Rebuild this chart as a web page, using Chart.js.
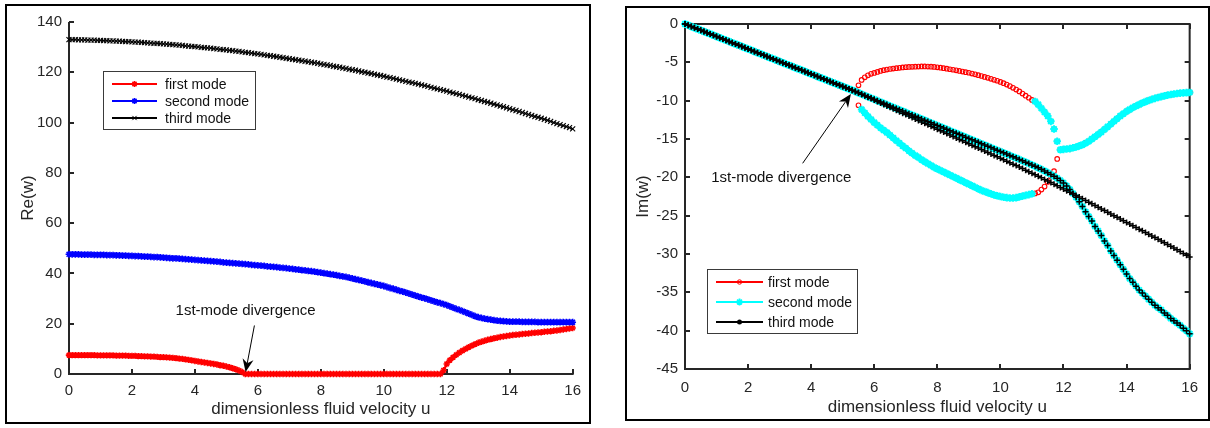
<!DOCTYPE html>
<html>
<head>
<meta charset="utf-8">
<script src="https://cdn.jsdelivr.net/npm/chart.js@4/dist/chart.umd.min.js"></script>
<style>
  html, body { margin:0; padding:0; background:#fff; width:1210px; height:428px; overflow:hidden; }
  .frame { position:absolute; box-sizing:border-box; border:2px solid #000; background:#fff; }
  #f1 { left:5px; top:4px; width:586px; height:420px; }
  #f2 { left:625px; top:6px; width:585px; height:415px; }
  canvas { display:block; }
</style>
</head>
<body>
<div class="frame" id="f1"><canvas id="c1" width="582" height="416"></canvas></div>
<div class="frame" id="f2"><canvas id="c2" width="581" height="411"></canvas></div>
<script>
// ---------------- DATA ----------------
// dimensionless fluid velocity grid
const u = [
0,0.1,0.2,0.3,0.4,0.5,0.6,0.7,0.8,0.9,
1,1.1,1.2,1.3,1.4,1.5,1.6,1.7,1.8,1.9,
2,2.1,2.2,2.3,2.4,2.5,2.6,2.7,2.8,2.9,
3,3.1,3.2,3.3,3.4,3.5,3.6,3.7,3.8,3.9,
4,4.1,4.2,4.3,4.4,4.5,4.6,4.7,4.8,4.9,
5,5.1,5.2,5.3,5.4,5.5,5.6,5.7,5.8,5.9,
6,6.1,6.2,6.3,6.4,6.5,6.6,6.7,6.8,6.9,
7,7.1,7.2,7.3,7.4,7.5,7.6,7.7,7.8,7.9,
8,8.1,8.2,8.3,8.4,8.5,8.6,8.7,8.8,8.9,
9,9.1,9.2,9.3,9.4,9.5,9.6,9.7,9.8,9.9,
10,10.1,10.2,10.3,10.4,10.5,10.6,10.7,10.8,10.9,
11,11.1,11.2,11.3,11.4,11.5,11.6,11.7,11.8,11.9,
12,12.1,12.2,12.3,12.4,12.5,12.6,12.7,12.8,12.9,
13,13.1,13.2,13.3,13.4,13.5,13.6,13.7,13.8,13.9,
14,14.1,14.2,14.3,14.4,14.5,14.6,14.7,14.8,14.9,
15,15.1,15.2,15.3,15.4,15.5,15.6,15.7,15.8,15.9,
16];

const xTicks = [0,2,4,6,8,10,12,14,16];
const reTicks = [0,20,40,60,80,100,120,140];
const imTicks = [0,-5,-10,-15,-20,-25,-30,-35,-40,-45];
const modeNames = ['first mode','second mode','third mode'];

// Re(w), left chart
const reFirst = [
7.5,7.5,7.5,7.5,7.5,7.5,7.5,7.5,7.5,7.4,7.4,
7.4,7.4,7.4,7.4,7.3,7.3,7.3,7.3,7.2,7.2,
7.2,7.1,7.1,7.0,7.0,6.9,6.9,6.8,6.7,6.7,
6.6,6.5,6.4,6.3,6.1,6.0,5.8,5.6,5.4,5.2,
5.0,4.8,4.6,4.4,4.2,4.0,3.8,3.5,3.3,3.0,
2.7,2.3,1.9,1.4,0.8,
0,0,0,0,0,0,0,0,0,0,
0,0,0,0,0,0,0,0,0,0,
0,0,0,0,0,0,0,0,0,0,
0,0,0,0,0,0,0,0,0,0,
0,0,0,0,0,0,0,0,0,0,
0,0,0,0,0,0,0,0,0,0,
0,0,0,
1.5,4.0,
5.5,6.6,7.6,8.5,9.3,10.0,10.7,11.3,11.9,12.4,
12.8,13.2,13.6,13.9,14.2,14.4,14.7,14.9,15.1,15.3,
15.5,15.6,15.7,15.9,16.0,16.1,16.3,16.4,16.5,16.6,
16.8,16.9,17.0,17.2,17.3,17.5,17.7,17.9,18.1,18.3];

const reSecond = [
47.6,47.6,47.6,47.6,47.5,47.5,47.5,47.5,47.4,47.4,47.4,
47.4,47.3,47.3,47.3,47.2,47.2,47.1,47.1,47.0,47.0,
46.9,46.9,46.8,46.7,46.7,46.6,46.5,46.5,46.4,46.3,
46.2,46.1,46.0,46.0,45.9,45.8,45.7,45.6,45.5,45.4,
45.3,45.2,45.1,45.0,44.9,44.8,44.7,44.6,44.4,44.3,
44.2,44.1,44.0,43.9,43.8,43.7,43.6,43.4,43.3,43.2,
43.1,43.0,42.8,42.7,42.6,42.5,42.3,42.2,42.1,41.9,
41.8,41.6,41.5,41.3,41.2,41.0,40.9,40.7,40.5,40.3,
40.1,39.9,39.7,39.5,39.3,39.0,38.8,38.6,38.3,38.0,
37.7,37.4,37.1,36.8,36.5,36.2,35.9,35.6,35.3,35.0,
34.6,34.2,33.9,33.5,33.1,32.8,32.4,32.0,31.6,31.2,
30.8,30.4,30.1,29.7,29.3,28.9,28.5,28.2,27.8,27.4,
26.9,26.4,25.9,25.5,25.0,24.5,24.0,23.5,23.0,22.6,
22.3,22.0,21.8,21.6,21.4,21.2,21.1,21.0,20.9,20.8,
20.8,20.8,20.8,20.7,20.7,20.7,20.7,20.7,20.6,20.6,
20.6,20.6,20.6,20.6,20.6,20.6,20.6,20.6,20.6,20.6];

const reThird = [
133.0,133.0,133.0,132.9,132.9,132.9,132.8,132.8,132.8,132.7,132.7,
132.6,132.6,132.5,132.5,132.4,132.4,132.3,132.2,132.2,132.1,
132.0,132.0,131.9,131.8,131.7,131.6,131.5,131.5,131.4,131.3,
131.2,131.1,131.0,130.9,130.8,130.7,130.5,130.4,130.3,130.2,
130.1,129.9,129.8,129.7,129.6,129.4,129.3,129.1,129.0,128.9,
128.7,128.6,128.4,128.3,128.1,127.9,127.8,127.6,127.4,127.3,
127.1,126.9,126.7,126.6,126.4,126.2,126.0,125.8,125.6,125.4,
125.2,125.0,124.8,124.6,124.4,124.2,124.0,123.8,123.6,123.3,
123.1,122.9,122.7,122.4,122.2,122.0,121.7,121.5,121.2,121.0,
120.8,120.5,120.2,120.0,119.7,119.5,119.2,118.9,118.7,118.4,
118.1,117.9,117.6,117.3,117.0,116.7,116.4,116.1,115.9,115.6,
115.3,115.0,114.7,114.4,114.0,113.7,113.4,113.1,112.8,112.5,
112.1,111.8,111.5,111.2,110.8,110.5,110.1,109.8,109.5,109.1,
108.8,108.4,108.1,107.7,107.3,107.0,106.6,106.3,105.9,105.5,
105.1,104.8,104.4,104.0,103.6,103.2,102.8,102.4,102.1,101.7,
101.3,100.9,100.5,100.0,99.6,99.2,98.8,98.4,98.0,97.5];

// Im(w), right chart: branches (each starts at the given u)
const imDiagonalStart = 0;     // u = 0 .. 5.5
const imDiagonal = [
0,-0.16,-0.33,-0.49,-0.65,-0.82,-0.98,-1.14,-1.30,-1.47,
-1.63,-1.79,-1.96,-2.12,-2.28,-2.45,-2.61,-2.77,-2.93,-3.10,
-3.26,-3.42,-3.59,-3.75,-3.91,-4.08,-4.24,-4.40,-4.56,-4.73,
-4.89,-5.05,-5.22,-5.38,-5.54,-5.71,-5.87,-6.03,-6.19,-6.36,
-6.52,-6.68,-6.85,-7.01,-7.17,-7.34,-7.50,-7.66,-7.82,-7.99,
-8.15,-8.31,-8.48,-8.64,-8.80,-8.97];

const imUpperArcStart = 5.5;   // u = 5.5 .. 11.8
const imUpperArc = [
-8.0,-7.3,-6.95,-6.7,-6.5,
-6.38,-6.25,-6.12,-6.02,-5.94,-5.87,-5.81,-5.76,-5.71,-5.67,
-5.63,-5.6,-5.58,-5.56,-5.55,-5.54,-5.54,-5.55,-5.57,-5.6,
-5.65,-5.7,-5.76,-5.83,-5.9,-5.97,-6.04,-6.12,-6.2,-6.28,
-6.36,-6.46,-6.56,-6.67,-6.78,-6.9,-7.02,-7.15,-7.28,-7.4,
-7.55,-7.72,-7.9,-8.1,-8.32,-8.55,-8.8,-9.07,-9.35,-9.62,
-9.9,-10.1,-10.5,-11.0,-11.5,-12.0,-12.7,-13.7,-15.3];

const imLowerArcStart = 5.5;   // u = 5.5 .. 11.8
const imLowerArc = [
-10.6,-11.15,-11.6,-12.05,-12.45,
-12.85,-13.2,-13.55,-13.85,-14.15,-14.5,-14.85,-15.2,-15.55,-15.9,
-16.2,-16.55,-16.85,-17.15,-17.4,-17.7,-17.95,-18.2,-18.45,-18.7,
-18.9,-19.1,-19.3,-19.5,-19.7,-19.9,-20.1,-20.3,-20.5,-20.7,
-20.9,-21.1,-21.3,-21.5,-21.7,-21.85,-22.0,-22.15,-22.3,-22.4,
-22.5,-22.6,-22.65,-22.7,-22.7,-22.65,-22.55,-22.45,-22.35,-22.25,
-22.15,-22.1,-21.95,-21.6,-21.2,-20.6,-19.9,-19.2,-17.6];

const imUpperBranchStart = 11.9; // u = 11.9 .. 16
const imUpperBranch = [
-16.4,
-16.35,-16.3,-16.25,-16.15,-16.05,-15.9,-15.75,-15.55,-15.3,-15.0,
-14.7,-14.4,-14.1,-13.75,-13.4,-13.05,-12.7,-12.35,-12.0,-11.7,
-11.4,-11.15,-10.9,-10.7,-10.5,-10.3,-10.12,-9.97,-9.83,-9.7,
-9.58,-9.47,-9.37,-9.28,-9.2,-9.13,-9.07,-9.02,-8.98,-8.95,
-8.93];

const imUpperLineStart = 5.6;  // u = 5.6 .. 12.2
const imUpperLine = [
-9.15,-9.32,-9.49,-9.66,
-9.83,-10.0,-10.17,-10.34,-10.51,-10.68,-10.85,-11.02,-11.19,-11.36,
-11.53,-11.70,-11.87,-12.04,-12.21,-12.38,-12.55,-12.72,-12.89,-13.06,
-13.23,-13.40,-13.57,-13.74,-13.91,-14.08,-14.25,-14.42,-14.59,-14.76,
-14.93,-15.10,-15.27,-15.44,-15.61,-15.78,-15.95,-16.12,-16.29,-16.46,
-16.63,-16.80,-16.97,-17.14,-17.31,-17.48,-17.66,-17.84,-18.02,-18.20,
-18.38,-18.57,-18.76,-18.96,-19.17,-19.39,-19.62,-19.86,-20.12,-20.41,
-20.74,-21.12,-21.58];

const imSteepStart = 12.3;     // u = 12.3 .. 16
const imSteep = [
-22.1,-22.6,-23.2,-23.8,-24.5,-25.1,-25.7,
-26.4,-27.0,-27.6,-28.3,-28.9,-29.6,-30.2,-30.8,-31.4,-32.0,
-32.6,-33.2,-33.7,-34.2,-34.7,-35.1,-35.5,-35.9,-36.3,-36.7,
-37.0,-37.3,-37.7,-38.0,-38.4,-38.7,-39.0,-39.3,-39.7,-40.0,
-40.4];

const imLowerLineStart = 5.6;  // u = 5.6 .. 16
const imLowerLine = [
-9.16,-9.35,-9.54,-9.73,
-9.92,-10.11,-10.30,-10.49,-10.68,-10.87,-11.06,-11.25,-11.44,-11.63,
-11.82,-12.01,-12.20,-12.39,-12.58,-12.77,-12.96,-13.15,-13.34,-13.53,
-13.72,-13.91,-14.10,-14.29,-14.48,-14.67,-14.86,-15.05,-15.24,-15.43,
-15.62,-15.81,-16.00,-16.19,-16.38,-16.57,-16.76,-16.95,-17.14,-17.33,
-17.52,-17.71,-17.90,-18.09,-18.28,-18.47,-18.66,-18.86,-19.06,-19.26,
-19.46,-19.66,-19.86,-20.06,-20.27,-20.48,-20.69,-20.90,-21.11,-21.32,
-21.53,-21.74,-21.95,-22.16,-22.37,-22.58,-22.80,-23.02,-23.24,-23.46,
-23.68,-23.90,-24.12,-24.34,-24.56,-24.78,-25.00,-25.22,-25.44,-25.66,
-25.88,-26.10,-26.32,-26.54,-26.76,-26.98,-27.20,-27.42,-27.64,-27.86,
-28.08,-28.31,-28.54,-28.77,-29.00,-29.23,-29.46,-29.69,-29.92,-30.15,
-30.38];

// ---------------- helpers ----------------
const FONT = '"Liberation Sans", Arial, Helvetica, sans-serif';
const AXC = '#262626';
const idx = v => u.indexOf(v) >= 0 ? u.indexOf(v) : Math.round(v * 10);
function full(vals) { return vals.map((y, i) => ({x: u[i], y})); }
// points of a branch between two u values (inclusive)
function seg(start, vals, from, to) {
  const i0 = idx(start), out = [];
  for (let k = 0; k < vals.length; k++) {
    const x = u[i0 + k];
    if ((from === undefined || x >= from - 1e-9) && (to === undefined || x <= to + 1e-9)) out.push({x, y: vals[k]});
  }
  return out;
}

function marker(ctx, style, x, y, r, color, lw) {
  ctx.save();
  ctx.strokeStyle = color; ctx.fillStyle = color; ctx.lineWidth = lw;
  ctx.beginPath();
  if (style === 'circle') { ctx.arc(x, y, r, 0, Math.PI * 2); ctx.stroke(); }
  else if (style === 'dot') { ctx.arc(x, y, r, 0, Math.PI * 2); ctx.fill(); }
  else {
    if (style === 'cross' || style === 'star') { ctx.moveTo(x - r, y); ctx.lineTo(x + r, y); ctx.moveTo(x, y - r); ctx.lineTo(x, y + r); }
    if (style === 'crossRot' || style === 'star') { const d = r * 0.707; ctx.moveTo(x - d, y - d); ctx.lineTo(x + d, y + d); ctx.moveTo(x - d, y + d); ctx.lineTo(x + d, y - d); }
    ctx.stroke();
  }
  ctx.restore();
}

function axesPlugin(box) {
  return {
    id: 'matlabAxes',
    beforeDatasetsDraw(chart) {
      const {ctx, chartArea: a, scales: {x, y}} = chart;
      const tl = 5;
      ctx.save();
      ctx.strokeStyle = AXC; ctx.lineWidth = 2; ctx.lineCap = 'butt';
      ctx.beginPath();
      ctx.moveTo(a.left, a.top); ctx.lineTo(a.left, a.bottom + 1);
      ctx.moveTo(a.left - 1, a.bottom); ctx.lineTo(a.right + 1, a.bottom);
      if (box) {
        ctx.moveTo(a.left - 1, a.top); ctx.lineTo(a.right + 1, a.top);
        ctx.moveTo(a.right, a.top); ctx.lineTo(a.right, a.bottom + 1);
      }
      ctx.stroke();
      ctx.beginPath();
      x.ticks.forEach(t => {
        const px = Math.round(x.getPixelForValue(t.value));
        ctx.moveTo(px, a.bottom); ctx.lineTo(px, a.bottom - tl);
        if (box) { ctx.moveTo(px, a.top); ctx.lineTo(px, a.top + tl); }
      });
      y.ticks.forEach(t => {
        const py = Math.round(y.getPixelForValue(t.value));
        ctx.moveTo(a.left, py); ctx.lineTo(a.left + tl, py);
        if (box) { ctx.moveTo(a.right, py); ctx.lineTo(a.right - tl, py); }
      });
      ctx.stroke();
      ctx.restore();
    }
  };
}

function legendPlugin(cfg) {
  return {
    id: 'boxLegend',
    afterDraw(chart) {
      const ctx = chart.ctx;
      ctx.save();
      ctx.fillStyle = '#fff';
      ctx.fillRect(cfg.x, cfg.y, cfg.w, cfg.h);
      ctx.strokeStyle = '#3a3a3a'; ctx.lineWidth = 1;
      ctx.strokeRect(cfg.x + 0.5, cfg.y + 0.5, cfg.w, cfg.h);
      ctx.font = '14px ' + FONT;
      ctx.textBaseline = 'middle'; ctx.textAlign = 'left';
      cfg.items.forEach((it, i) => {
        const yy = cfg.rows[i];
        ctx.strokeStyle = it.color; ctx.lineWidth = 2;
        ctx.beginPath(); ctx.moveTo(cfg.l0, yy); ctx.lineTo(cfg.l1, yy); ctx.stroke();
        marker(ctx, it.marker, (cfg.l0 + cfg.l1) / 2, yy, it.r, it.color, it.lw);
        ctx.fillStyle = '#111';
        ctx.fillText(it.label, cfg.tx, yy + 1);
      });
      ctx.restore();
    }
  };
}

function arrowPlugin(cfg) {
  return {
    id: 'arrowNote',
    afterDatasetsDraw(chart) {
      const {ctx, scales: {x, y}} = chart;
      const fx = x.getPixelForValue(cfg.from[0]), fy = y.getPixelForValue(cfg.from[1]);
      const tx = x.getPixelForValue(cfg.to[0]), ty = y.getPixelForValue(cfg.to[1]);
      const dx = tx - fx, dy = ty - fy, len = Math.hypot(dx, dy);
      const ux = dx / len, uy = dy / len, nx = -uy, ny = ux;
      const L = 13, W = 5.5, N = 4;
      const bx = tx - ux * L, by = ty - uy * L;
      const kx = tx - ux * (L - N), ky = ty - uy * (L - N);
      ctx.save();
      ctx.strokeStyle = '#000'; ctx.fillStyle = '#000'; ctx.lineWidth = 1;
      ctx.beginPath(); ctx.moveTo(fx, fy); ctx.lineTo(kx, ky); ctx.stroke();
      ctx.beginPath();
      ctx.moveTo(tx, ty); ctx.lineTo(bx + nx * W, by + ny * W); ctx.lineTo(kx, ky); ctx.lineTo(bx - nx * W, by - ny * W);
      ctx.closePath(); ctx.fill();
      ctx.font = '15px ' + FONT; ctx.fillStyle = '#111';
      ctx.textAlign = 'center'; ctx.textBaseline = 'alphabetic';
      ctx.fillText(cfg.text, x.getPixelForValue(cfg.textAt[0]), y.getPixelForValue(cfg.textAt[1]));
      ctx.restore();
    }
  };
}

function scalesCfg(xmin, xmax, xt, ymin, ymax, yt, yTitle, cfg) {
  return {
    x: {
      type: 'linear', min: xmin, max: xmax,
      grid: {display: false, drawTicks: false}, border: {display: false},
      afterBuildTicks: s => { s.ticks = xt.map(v => ({value: v})); },
      afterFit: s => { s.height = cfg.xh; },
      ticks: {padding: cfg.xpad, color: AXC, font: {family: FONT, size: 15}, maxRotation: 0, autoSkip: false, callback: v => String(v)},
      title: {display: true, text: 'dimensionless fluid velocity u', color: AXC, font: {family: FONT, size: 17}, padding: {top: 0, bottom: cfg.xtp}}
    },
    y: {
      type: 'linear', min: ymin, max: ymax,
      grid: {display: false, drawTicks: false}, border: {display: false},
      afterBuildTicks: s => { s.ticks = yt.map(v => ({value: v})); },
      afterFit: s => { s.width = cfg.yw; },
      ticks: {padding: 7, color: AXC, font: {family: FONT, size: 15}, autoSkip: false, callback: v => String(v)},
      title: {display: true, text: yTitle, color: AXC, font: {family: FONT, size: 17}, padding: {top: cfg.ytp, bottom: 0}}
    }
  };
}

// ---------------- LEFT CHART: Re(w) ----------------
new Chart(document.getElementById('c1'), {
  type: 'scatter',
  data: {
    datasets: [
      {label: modeNames[0], data: full(reFirst), showLine: true, borderColor: '#ff0000', borderWidth: 2,
       pointStyle: 'star', pointRadius: 3.2, pointBorderWidth: 1.6, pointBorderColor: '#ff0000', pointBackgroundColor: '#ff0000', clip: false, order: 3},
      {label: modeNames[1], data: full(reSecond), showLine: true, borderColor: '#0000ff', borderWidth: 2,
       pointStyle: 'star', pointRadius: 3.4, pointBorderWidth: 1.6, pointBorderColor: '#0000ff', pointBackgroundColor: '#0000ff', clip: false, order: 2},
      {label: modeNames[2], data: full(reThird), showLine: true, borderColor: '#000000', borderWidth: 1,
       pointStyle: 'crossRot', pointRadius: 3.6, pointBorderWidth: 1.1, pointBorderColor: '#000000', pointBackgroundColor: '#000000', clip: false, order: 1}
    ]
  },
  options: {
    responsive: false, animation: false, devicePixelRatio: 1,
    layout: {padding: {left: 0, right: 12, top: 13, bottom: 0}},
    plugins: {legend: {display: false}, tooltip: {enabled: false}},
    elements: {line: {tension: 0}},
    scales: scalesCfg(0, 16, xTicks, 0, 140, reTicks, 'Re(w)', {xh: 48, yw: 62, xpad: 8, xtp: 2, ytp: 11})
  },
  plugins: [
    axesPlugin(false),
    arrowPlugin({text: '1st-mode divergence', textAt: [5.61, 23.4], from: [5.89, 19.3], to: [5.61, 0.8]}),
    legendPlugin({x: 96, y: 65, w: 152, h: 58, l0: 105, l1: 150, tx: 158, rows: [78, 95, 112],
      items: [
        {label: modeNames[0], color: '#ff0000', marker: 'star', r: 3, lw: 1.5},
        {label: modeNames[1], color: '#0000ff', marker: 'star', r: 3, lw: 1.5},
        {label: modeNames[2], color: '#000000', marker: 'crossRot', r: 3, lw: 1}
      ]})
  ]
});

// ---------------- RIGHT CHART: Im(w) ----------------
const firstA  = [...seg(imDiagonalStart, imDiagonal, 0, 5.4), ...seg(imUpperArcStart, imUpperArc), ...seg(imUpperBranchStart, imUpperBranch)];
const firstB  = [...seg(imDiagonalStart, imDiagonal, 0, 5.4), ...seg(imLowerArcStart, imLowerArc), ...seg(imUpperBranchStart, imUpperBranch)];
const secondA = [...seg(imDiagonalStart, imDiagonal), ...seg(imUpperLineStart, imUpperLine), ...seg(imSteepStart, imSteep)];
const secondB = [...seg(imDiagonalStart, imDiagonal), ...seg(imLowerArcStart, imLowerArc, 5.6, 11.0), ...seg(imUpperArcStart, imUpperArc, 11.1, 11.8), ...seg(imUpperBranchStart, imUpperBranch)];
const thirdA  = [...seg(imDiagonalStart, imDiagonal), ...seg(imLowerLineStart, imLowerLine)];
const thirdB  = [...seg(imDiagonalStart, imDiagonal), ...seg(imUpperLineStart, imUpperLine), ...seg(imSteepStart, imSteep)];

function rds(label, data, color, style, r, lw, order, fill) {
  return {label, data, showLine: false, pointStyle: style, pointRadius: r, pointBorderWidth: lw,
          pointBorderColor: color, pointBackgroundColor: fill || 'rgba(0,0,0,0)', borderColor: color, clip: false, order};
}

new Chart(document.getElementById('c2'), {
  type: 'scatter',
  data: {
    datasets: [
      rds(modeNames[0], firstA, '#ff0000', 'circle', 2.3, 1.1, 3),
      rds(modeNames[0], firstB, '#ff0000', 'circle', 2.3, 1.1, 3),
      rds(modeNames[1], secondA, '#00ffff', 'star', 3.8, 2, 2, '#00ffff'),
      rds(modeNames[1], secondB, '#00ffff', 'star', 3.8, 2, 2, '#00ffff'),
      rds(modeNames[2], thirdA, '#000000', 'cross', 3, 1.5, 1, '#000000'),
      rds(modeNames[2], thirdB, '#000000', 'cross', 3, 1.5, 1, '#000000')
    ]
  },
  options: {
    responsive: false, animation: false, devicePixelRatio: 1,
    layout: {padding: {left: 0, right: 16, top: 15, bottom: 0}},
    plugins: {legend: {display: false}, tooltip: {enabled: false}},
    scales: scalesCfg(0, 16, xTicks, -45, 0, imTicks, 'Im(w)', {xh: 50, yw: 58, xpad: 10, xtp: 1, ytp: 6})
  },
  plugins: [
    axesPlugin(true),
    arrowPlugin({text: '1st-mode divergence', textAt: [3.05, -20.6], from: [3.73, -18.17], to: [5.26, -9.14]}),
    legendPlugin({x: 80, y: 261, w: 150, h: 64, l0: 89, l1: 136, tx: 141, rows: [274, 294, 314],
      items: [
        {label: modeNames[0], color: '#ff0000', marker: 'circle', r: 2.2, lw: 1},
        {label: modeNames[1], color: '#00ffff', marker: 'star', r: 3.5, lw: 1.8},
        {label: modeNames[2], color: '#000000', marker: 'dot', r: 2.5, lw: 1}
      ]})
  ]
});
</script>
</body>
</html>
